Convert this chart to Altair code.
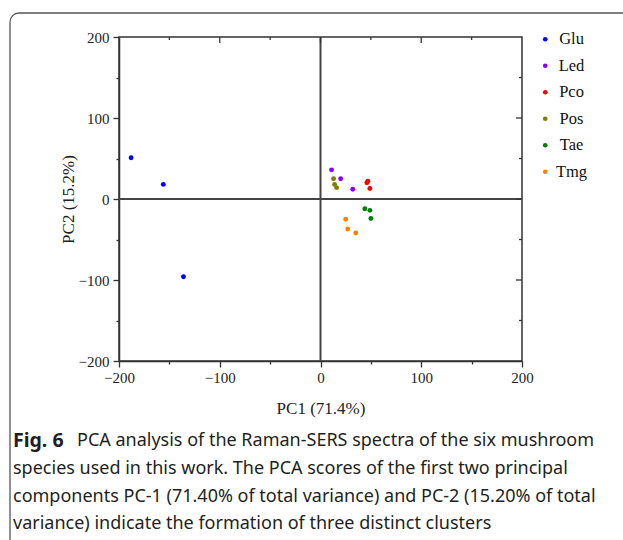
import altair as alt
import pandas as pd

species_names = ["Glu", "Led", "Pco", "Pos", "Tae", "Tmg"]
species_colors = ["#0000FF", "#8A00FF", "#FF0000", "#808000", "#008000", "#FF8000"]

species = ["Glu", "Glu", "Glu",
           "Led", "Led", "Led",
           "Pco", "Pco", "Pco",
           "Pos", "Pos", "Pos",
           "Tae", "Tae", "Tae",
           "Tmg", "Tmg", "Tmg"]
pc1 = [-188, -156, -136,
       11, 20, 32,
       46, 47, 49,
       13, 14, 16,
       44, 49, 50,
       25, 27, 35]
pc2 = [51, 18, -96,
       36, 25, 12,
       20, 22, 13,
       25, 18, 14,
       -12, -14, -24,
       -25, -37, -42]

tick_values = [-200, -150, -100, -50, 0, 50, 100, 150, 200]
inner_major = [-100, 0, 100]
inner_minor = [-150, -50, 50, 150]

caption_bold = "Fig. 6"
caption_lines = [
    "PCA analysis of the Raman-SERS spectra of the six mushroom",
    "species used in this work. The PCA scores of the first two principal",
    "components PC-1 (71.40% of total variance) and PC-2 (15.20% of total",
    "variance) indicate the formation of three distinct clusters",
]

x_title = "PC1 (71.4%)"
y_title = "PC2 (15.2%)"

df = pd.DataFrame({"species": species, "pc1": pc1, "pc2": pc2})

W, H = 403, 324
SERIF = "Liberation Serif"
SANS = "Noto Sans"

tick_size = {"condition": {"test": "datum.value % 100 === 0", "value": 6}, "value": 3}

xscale = alt.Scale(domain=[-200, 200], nice=False, zero=False)
yscale = alt.Scale(domain=[-200, 200], nice=False, zero=False)

xaxis = alt.Axis(values=tick_values, labelExpr="datum.value % 100 === 0 ? datum.label : ''",
                 tickSize=tick_size, grid=False, title=x_title, titlePadding=15,
                 labelPadding=3, labelFlush=False)
yaxis = alt.Axis(values=tick_values, labelExpr="datum.value % 100 === 0 ? datum.label : ''",
                 tickSize=tick_size, grid=False, title=y_title, titlePadding=1,
                 labelPadding=4, labelFlush=False)

points = alt.Chart(df).mark_circle(size=24, opacity=1).encode(
    x=alt.X("pc1:Q", scale=xscale, axis=xaxis),
    y=alt.Y("pc2:Q", scale=yscale, axis=yaxis),
    color=alt.Color("species:N",
                    scale=alt.Scale(domain=species_names, range=species_colors),
                    legend=alt.Legend(title=None, orient="none", legendX=418, legendY=-6,
                                      symbolType="circle", symbolSize=22,
                                      labelFont=SERIF, labelFontSize=16.5, labelColor="#111",
                                      labelAlign="center", labelOffset=18,
                                      rowPadding=9.5)),
)

zero_v = alt.Chart(pd.DataFrame({"v": [0]})).mark_rule(color="#444", strokeWidth=2).encode(
    x=alt.X("v:Q", scale=xscale))
zero_h = alt.Chart(pd.DataFrame({"v": [0]})).mark_rule(color="#444", strokeWidth=2).encode(
    y=alt.Y("v:Q", scale=yscale))

top_major = alt.Chart(pd.DataFrame({"v": inner_major})).mark_rule(color="#333", strokeWidth=1.3).encode(
    x=alt.X("v:Q", scale=xscale), y=alt.value(0), y2=alt.value(6))
top_minor = alt.Chart(pd.DataFrame({"v": inner_minor})).mark_rule(color="#333", strokeWidth=1.3).encode(
    x=alt.X("v:Q", scale=xscale), y=alt.value(0), y2=alt.value(3))
right_major = alt.Chart(pd.DataFrame({"v": inner_major})).mark_rule(color="#333", strokeWidth=1.3).encode(
    y=alt.Y("v:Q", scale=yscale), x=alt.value(W), x2=alt.value(W - 6))
right_minor = alt.Chart(pd.DataFrame({"v": inner_minor})).mark_rule(color="#333", strokeWidth=1.3).encode(
    y=alt.Y("v:Q", scale=yscale), x=alt.value(W), x2=alt.value(W - 3))

border = alt.Chart(pd.DataFrame({"a": [0]})).mark_rect(
    fill="white", fillOpacity=0, stroke="#555", strokeWidth=1.3, cornerRadius=9).encode(
    x=alt.value(-109), y=alt.value(-24), x2=alt.value(720), y2=alt.value(720))

cap_layers = []
cap_layers.append(
    alt.Chart(pd.DataFrame({"t": [caption_bold]})).mark_text(
        font=SANS, fontSize=19.5, fontWeight="bold", align="left", baseline="middle", color="#231f20"
    ).encode(text="t:N", x=alt.value(13 - 119), y=alt.value(404))
)
line_y = [404, 432, 460, 487]
line_x = [77 - 119, 13 - 119, 13 - 119, 13 - 119]
for txt, yy, xx in zip(caption_lines, line_y, line_x):
    cap_layers.append(
        alt.Chart(pd.DataFrame({"t": [txt]})).mark_text(
            font=SANS, fontSize=18, align="left", baseline="middle", color="#231f20"
        ).encode(text="t:N", x=alt.value(xx), y=alt.value(yy))
    )

chart = alt.layer(
    border, zero_v, zero_h, top_major, top_minor, right_major, right_minor, points, *cap_layers
).properties(
    width=W, height=H,
    autosize=alt.AutoSizeParams(type="none"),
    padding={"left": 119, "top": 37, "right": 101, "bottom": 179},
    background="white",
).configure_view(
    stroke="#333", strokeWidth=1.5
).configure_axis(
    labelFont=SERIF, labelFontSize=15, labelColor="#222",
    titleFont=SERIF, titleFontSize=17, titleFontWeight="normal", titleColor="#222",
    domainColor="#333", domainWidth=1.5, tickColor="#333", tickWidth=1.3,
)

chart.save("out.html", embed_options={"renderer": "svg", "actions": False})
